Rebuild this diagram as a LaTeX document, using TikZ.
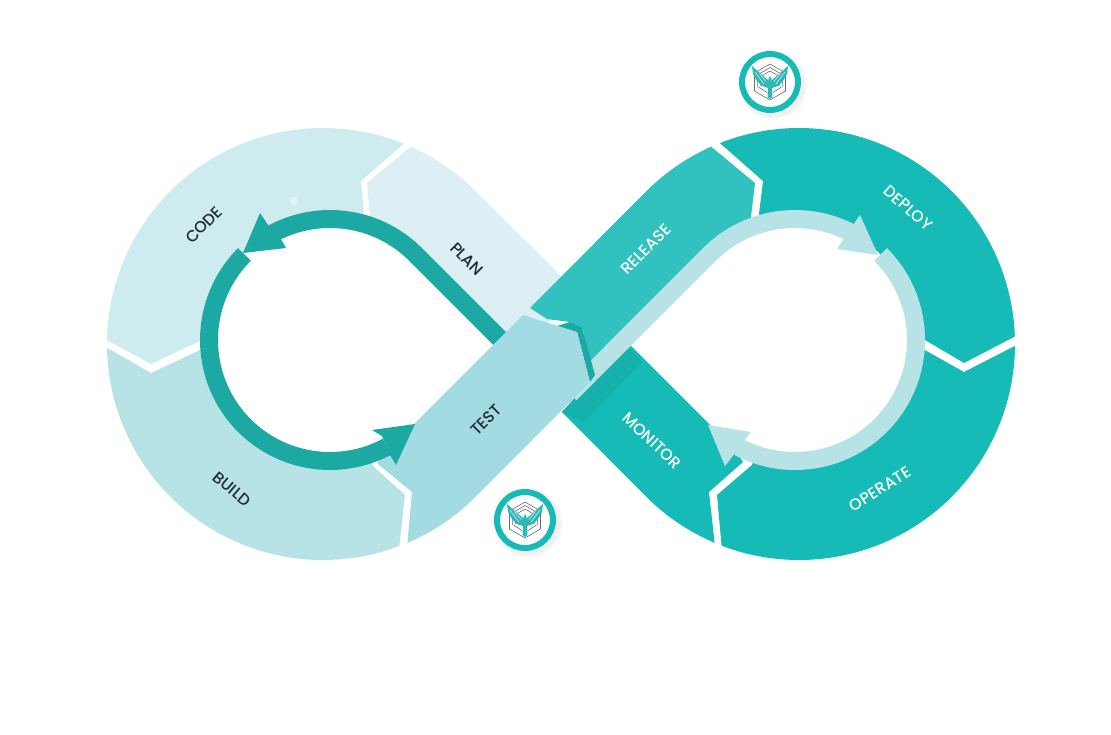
\documentclass[tikz,border=0pt]{standalone}
\usepackage{fontspec}
\setmainfont{Poppins Medium}
\usetikzlibrary{calc}
\definecolor{codec}{HTML}{CEEBEF}
\definecolor{planc}{HTML}{DBEFF4}
\definecolor{buildc}{HTML}{B8E3E6}
\definecolor{testc}{HTML}{A3DBE2}
\definecolor{relc}{HTML}{31C1BE}
\definecolor{mainc}{HTML}{16BAB6}
\definecolor{shadec}{HTML}{15B1AC}
\definecolor{darkc}{HTML}{1CA9A3}
\definecolor{lightc}{HTML}{B8E3E6}
\definecolor{inkc}{HTML}{1F2D36}
\definecolor{hexc}{HTML}{666B78}
\definecolor{birdc}{HTML}{2DB8B5}
\tikzset{
  seg/.style={fill=#1,draw=none},
  ringline/.style={draw=#1,line width=18pt,line cap=butt},
  lab/.style={font=\fontsize{16}{18}\selectfont,text=#1,inner sep=0pt},
  hexline/.style={draw=hexc,line width=0.6pt},
}
\newcommand{\hexring}[1]{\draw[hexline] (-#1*.85,#1*.35)--(-#1*.85,-#1*.5)--(0,-#1)--(#1*.85,-#1*.5)--(#1*.85,#1*.35);}
\newcommand{\logobadge}[2]{%
\begin{scope}[shift={(#1,#2)}]
  \foreach \rr/\oo in {35/.012,34/.012,33/.016,32/.02}{\fill[black,opacity=\oo] (3,3) circle[radius=\rr];}
  \fill[white] (0,0) circle[radius=31];
  \draw[mainc,line width=6pt] (0,0) circle[radius=28];
  \draw[hexline] (-15.5,8)--(-15.5,-9)--(0,-18)--(15.5,-9)--(15.5,9)--(0,18)--(-15.5,9)--cycle;
  \hexring{14.5}
  \hexring{11}
  \draw[hexline] (-11.5,5)--(-3,10.5) (11.5,5)--(3,10.5);
  \fill[birdc] (-1,-1)--(-18,-16)--(-17,-8)--(-13,-1)--(-8,4)--(-2,6)--cycle;
  \fill[birdc] (1,-1)--(18,-16)--(17,-8)--(13,-1)--(8,4)--(2,6)--cycle;
  \fill[birdc] (-1.5,-3)--(0,-6)--(1.5,-3)--(2,6)--(2.5,15)--(0,17)--(-2.5,15)--(-2,6)--cycle;
  \draw[white,line width=.45pt] (-15,-10)--(-6,2) (-10.5,-8.5)--(-4,-0.5) (15,-10)--(6,2) (10.5,-8.5)--(4,-0.5);
\end{scope}}
\begin{document}
\begin{tikzpicture}[x=1pt,y=-1pt]
\useasboundingbox (0,0) rectangle (1111,734);
\coordinate (LO) at (323,344);
\coordinate (RO) at (799,344);
\coordinate (LI) at (330,340);
\coordinate (RI) at (795,340);

% left half
\fill[seg=codec] ($(LO)+(181:216)$) arc[start angle=181,end angle=292,radius=216]
  -- (361,181) -- (364,213) -- ($(LI)+(285:121)$) arc[start angle=285,end angle=180,radius=121]
  -- (198,342) -- (151,364) -- cycle;
\fill[seg=buildc] ($(LO)+(179:216)$) arc[start angle=179,end angle=69.3,radius=216]
  -- (405,495) -- (372,465) -- ($(LI)+(71:121)$) arc[start angle=71,end angle=176,radius=121]
  -- (200,350) -- (151,373) -- cycle;
\fill[seg=planc] ($(LO)+(294:216)$) arc[start angle=294,end angle=315,radius=216]
  -- (575,290) -- (520,359) -- ($(LI)+(315:121)$) arc[start angle=315,end angle=288,radius=121]
  -- (370,215) -- (367,183) -- cycle;
\fill[codec!55!white] (291,197)--(297,197)--(297,203)--(294,206)--(291,203)--cycle;

% right half
\fill[seg=mainc] ($(RO)+(113:216)$) arc[start angle=113,end angle=135,radius=216]
  -- (562,412) -- (600,370) -- (627,342) -- (709,424) -- (735,450) -- (743,462) -- (709,492) -- cycle;
\fill[seg=shadec] (590,382) -- (627,345) -- (642,362) -- (583,423) -- (562,412) -- cycle;
\fill[seg=relc] (530,308) -- ($(RO)+(225:216)$) arc[start angle=225,end angle=246,radius=216]
  -- (755,183) -- (751,217) -- ($(RI)+(250:121)$) arc[start angle=250,end angle=225,radius=121]
  -- (590,374) -- (583,330) -- (570,322) -- (547,319) -- cycle;
\fill[seg=mainc] ($(RO)+(248.5:216)$) arc[start angle=248.5,end angle=358,radius=216]
  -- (964,363) -- (925,340) -- ($(RI)+(360:121)$) arc[start angle=360,end angle=254,radius=121]
  -- (759,214) -- (763,181) -- cycle;
\fill[seg=mainc] ($(RO)+(0.5:216)$) arc[start angle=0.5,end angle=111,radius=216]
  -- (717,495) -- (752,465) -- ($(RI)+(109:121)$) arc[start angle=109,end angle=4,radius=121]
  -- (923,349) -- (964,372) -- cycle;

% right ring
\draw[ringline=lightc] (570,394) -- ($(RI)+(225:121)$) arc[start angle=225,end angle=300,radius=121];
\draw[ringline=lightc] ($(RI)+(-45:121)$) arc[start angle=-45,end angle=118,radius=121];
\fill[lightc] (878,255) -- (860,215) -- (853,225) -- (843,240) -- (837,249) -- cycle;
\fill[lightc] (708,425) -- (751,432) -- (743,442) -- (732,457) -- (725,466) -- cycle;

% left ring, upper part
\draw[ringline=darkc] (525,364) -- ($(LI)+(315:121)$) arc[start angle=315,end angle=240,radius=121];

% strip and test
\fill[seg=darkc] (557,326) -- (570,322) -- (582,328) -- (595,375) -- (590,382) -- (577,332) -- cycle;
\fill[seg=testc] (523,315) -- (577,332) -- (590,382) -- ($(LO)+(45:216)$) arc[start angle=45,end angle=67,radius=216]
  -- (412,492) -- (378,464) -- (380,440) -- (413,425) -- cycle;

% left ring, lower part and heads
\draw[ringline=darkc] ($(LI)+(225:121)$) arc[start angle=225,end angle=62,radius=121];
\fill[darkc] (243,253) -- (260,213) -- (268,225) -- (281,239) -- (286,248) -- cycle;
\fill[darkc] (415,424) -- (372,430) -- (382,436) -- (390,455) -- (396,465) -- cycle;

% labels
\node[lab=inkc,rotate=45] (code) at (204,225) {CODE};
\node[lab=inkc,rotate=-45] (plan) at (467,259) {PLAN};
\node[lab=inkc,rotate=45] (test) at (486,420) {TEST};
\node[lab=inkc,rotate=-40] (build) at (232,489) {BUILD};
\node[lab=white,rotate=45] (release) at (646,249) {RELEASE};
\node[lab=white,rotate=-41] (deploy) at (908,208) {DEPLOY};
\node[lab=white,rotate=-43] (monitor) at (652,441) {MONITOR};
\node[lab=white,rotate=32] (operate) at (880,489) {OPERATE};

\logobadge{770}{82}
\logobadge{525}{520}
\end{tikzpicture}
\end{document}
